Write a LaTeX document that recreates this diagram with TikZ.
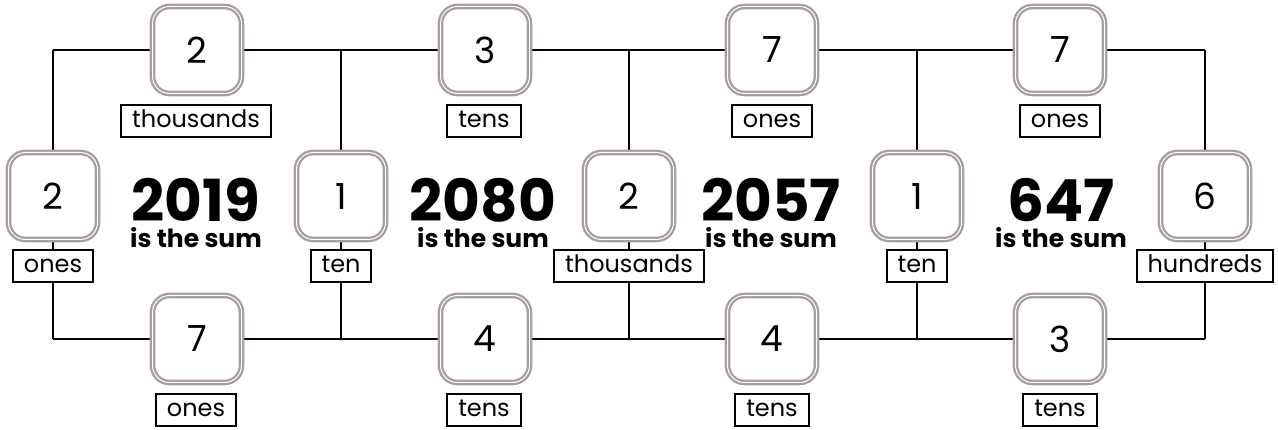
\documentclass[tikz,border=0pt]{standalone}
\usepackage{fontspec}
\setmainfont{Poppins}
\usetikzlibrary{backgrounds}
\definecolor{boxgrey}{RGB}{168,158,156}
\begin{document}
\begin{tikzpicture}[x=1pt,y=-1pt,
  digitbox/.style={draw=boxgrey, double=white, line width=2.3pt, double distance=1pt, fill=white, rounded corners=17pt, minimum width=89pt, minimum height=87pt, inner sep=0pt, font=\fontsize{36}{36}\selectfont},
  placelabel/.style={draw=black, line width=2pt, fill=white, inner xsep=11pt, inner ysep=0pt, text height=19pt, text depth=6pt, minimum height=32pt, font=\fontsize{24}{24}\selectfont},
  sumnum/.style={font=\bfseries\fontsize{58}{58}\selectfont, inner sep=0pt, anchor=base},
  sumtext/.style={font=\bfseries\fontsize{25}{25}\selectfont, inner sep=0pt, anchor=base},
  conn/.style={line width=2.2pt, black}]
\useasboundingbox (0,0) rectangle (1278,430);
% top row
\node[digitbox] (t1) at (197,50) {2};
\node[digitbox] (t2) at (485,50) {3};
\node[digitbox] (t3) at (772,50) {7};
\node[digitbox] (t4) at (1060,50) {7};
\node[placelabel] (lt1) at (196,121) {thousands};
\node[placelabel] (lt2) at (484,121) {tens};
\node[placelabel] (lt3) at (772,121) {ones};
\node[placelabel] (lt4) at (1060,121) {ones};
% middle row
\node[digitbox] (m1) at (53,196) {2};
\node[digitbox] (m2) at (341,196) {1};
\node[digitbox] (m3) at (629,196) {2};
\node[digitbox] (m4) at (917,196) {1};
\node[digitbox] (m5) at (1205,196) {6};
\node[placelabel] (lm1) at (53,266) {ones};
\node[placelabel] (lm2) at (341,266) {ten};
\node[placelabel] (lm3) at (629,266) {thousands};
\node[placelabel] (lm4) at (917,266) {ten};
\node[placelabel] (lm5) at (1205,266) {hundreds};
% bottom row
\node[digitbox] (b1) at (197,339) {7};
\node[digitbox] (b2) at (485,339) {4};
\node[digitbox] (b3) at (772,339) {4};
\node[digitbox] (b4) at (1060,339) {3};
\node[placelabel] (lb1) at (196,410) {ones};
\node[placelabel] (lb2) at (484,410) {tens};
\node[placelabel] (lb3) at (772,410) {tens};
\node[placelabel] (lb4) at (1060,410) {tens};
% sums
\node[sumnum] (s1) at (196,222) {2019};
\node[sumnum] (s2) at (483,222) {2080};
\node[sumnum] (s3) at (771,222) {2057};
\node[sumnum] (s4) at (1061,222) {647};
\node[sumtext] (st1) at (196,248) {is the sum};
\node[sumtext] (st2) at (483,248) {is the sum};
\node[sumtext] (st3) at (771,248) {is the sum};
\node[sumtext] (st4) at (1061,248) {is the sum};
% junctions
\coordinate (a1) at (53,50);
\coordinate (a2) at (341,50);
\coordinate (a3) at (629,50);
\coordinate (a4) at (917,50);
\coordinate (a5) at (1205,50);
\coordinate (c1) at (53,339);
\coordinate (c2) at (341,339);
\coordinate (c3) at (629,339);
\coordinate (c4) at (917,339);
\coordinate (c5) at (1205,339);
\begin{scope}[on background layer]
\draw[conn] (a1) -- (t1) -- (a2) -- (t2) -- (a3) -- (t3) -- (a4) -- (t4) -- (a5);
\draw[conn] (c1) -- (b1) -- (c2) -- (b2) -- (c3) -- (b3) -- (c4) -- (b4) -- (c5);
\draw[conn] (a1) -- (m1) -- (lm1) -- (c1);
\draw[conn] (a2) -- (m2) -- (lm2) -- (c2);
\draw[conn] (a3) -- (m3) -- (lm3) -- (c3);
\draw[conn] (a4) -- (m4) -- (lm4) -- (c4);
\draw[conn] (a5) -- (m5) -- (lm5) -- (c5);
\end{scope}
\end{tikzpicture}
\end{document}
